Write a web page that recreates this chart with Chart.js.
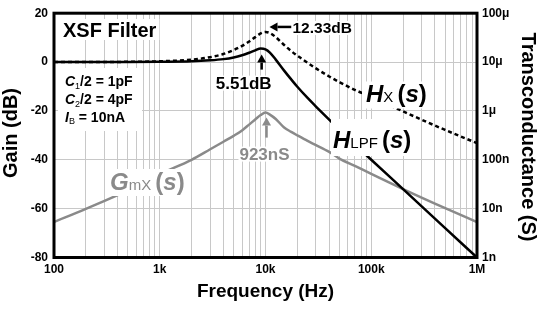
<!DOCTYPE html>
<html>
<head>
<meta charset="utf-8">
<script src="https://cdn.jsdelivr.net/npm/chart.js@4.4.1/dist/chart.umd.min.js"></script>
<style>
  html, body { margin: 0; padding: 0; background: #fff; }
</style>
</head>
<body>
<canvas id="xsfChart" width="542" height="310"></canvas>
<script>
// frequency points (Hz)
const freqHz = [100, 200, 500, 1000, 2000, 3000, 4000, 5000, 6000, 7000, 8000, 9000, 10000, 11000, 12500,
  15000, 17500, 20000, 25000, 30000, 40000, 50000, 70000, 100000, 200000, 500000, 1000000];
// H_LPF(s) gain, dB
const hlpfDb = [0, 0, 0, 0.1, 0.3, 0.7, 1.2, 1.9, 2.8, 3.8, 4.8, 5.5, 5.2, 3.9, 1.0,
  -3.5, -7.1, -10.1, -14.7, -18.2, -23.6, -27.7, -33.7, -40, -52, -68, -80];
// H_X(s) gain, dB
const hxDb = [0, 0, 0.1, 0.3, 1.0, 2.0, 3.3, 4.9, 6.6, 8.4, 10.2, 11.7, 12.33, 11.9, 10.2,
  7.0, 4.5, 2.6, -0.3, -2.6, -5.9, -8.2, -11.4, -14.2, -20.2, -27.8, -33.2];
// G_mX(s) transconductance, nS
const gmNs = [5.31, 9.9, 23.7, 51.3, 100, 164, 234, 309, 398, 525, 668, 822, 923, 841, 684,
  457, 372, 316, 243, 200, 145, 106, 75, 51.3, 25.1, 10.2, 5.31];

// axis ticks
const gainTicks = [-80, -60, -40, -20, 0, 20];
const freqDecades = [100, 1000, 10000, 100000, 1000000];
const freqLabels = ['100', '1k', '10k', '100k', '1M'];
const gmDecadesNs = [1, 10, 100, 1000, 10000, 100000];
const gmLabels = ['1n', '10n', '100n', '1μ', '10μ', '100μ'];

const FONT = "'Liberation Sans', Arial, sans-serif";
const GRAY = '#8a8a8a';

function points(ys) {
  return freqHz.map((f, i) => ({ x: f, y: ys[i] }));
}

// draws text made of several font runs, optionally on a white box
function richText(ctx, x, y, parts, color, box) {
  let w = 0;
  parts.forEach(p => { ctx.font = p[1]; w += ctx.measureText(p[0]).width; });
  if (box) {
    ctx.fillStyle = '#fff';
    ctx.fillRect(x - box[0], y - box[1], w + box[0] + box[3], box[1] + box[2]);
  }
  ctx.fillStyle = color;
  ctx.textAlign = 'left';
  ctx.textBaseline = 'alphabetic';
  let cx = x;
  parts.forEach(p => {
    ctx.font = p[1];
    ctx.fillText(p[0], cx, y + (p[2] || 0));
    cx += ctx.measureText(p[0]).width;
  });
  return w;
}

function arrow(ctx, x1, y1, x2, y2, color) {
  const a = Math.atan2(y2 - y1, x2 - x1);
  const len = 8, half = 4.5;
  const bx = x2 - len * Math.cos(a), by = y2 - len * Math.sin(a);
  ctx.strokeStyle = color;
  ctx.fillStyle = color;
  ctx.lineWidth = 2.5;
  ctx.beginPath();
  ctx.moveTo(x1, y1);
  ctx.lineTo(bx, by);
  ctx.stroke();
  ctx.beginPath();
  ctx.moveTo(x2, y2);
  ctx.lineTo(bx + half * Math.sin(a), by - half * Math.cos(a));
  ctx.lineTo(bx - half * Math.sin(a), by + half * Math.cos(a));
  ctx.closePath();
  ctx.fill();
}

const labelsPlugin = {
  id: 'xsfLabels',
  afterDatasetsDraw(chart) {
    const ctx = chart.ctx;
    const area = chart.chartArea;
    const xs = chart.scales.x, ys = chart.scales.y, ys1 = chart.scales.y1;
    ctx.save();

    // frame
    ctx.strokeStyle = '#000';
    ctx.lineWidth = 3;
    ctx.strokeRect(area.left, area.top, area.right - area.left, area.bottom - area.top);

    const b = 'bold ';
    const bi = 'italic bold ';

    // title and parameters
    richText(ctx, 63, 37, [['XSF Filter', b + '20px ' + FONT]], '#000', [3, 18, 3, 3]);
    ctx.fillStyle = '#fff';
    ctx.fillRect(58, 68, 84, 63);
    richText(ctx, 65, 86, [['C', bi + '14px ' + FONT], ['1', '9px ' + FONT, 3], ['/2 = 1pF', b + '14px ' + FONT]], '#000');
    richText(ctx, 65, 104, [['C', bi + '14px ' + FONT], ['2', '9px ' + FONT, 3], ['/2 = 4pF', b + '14px ' + FONT]], '#000');
    richText(ctx, 65, 122, [['I', bi + '14px ' + FONT], ['B', '9px ' + FONT, 2], [' = 10nA', b + '14px ' + FONT]], '#000');

    // H_LPF peak
    const px = xs.getPixelForValue(9200), py = ys.getPixelForValue(5.51);
    arrow(ctx, px, py + 21, px, py + 6, '#000');
    ctx.font = b + '17px ' + FONT;
    const t1 = '5.51dB', w1 = ctx.measureText(t1).width;
    richText(ctx, px - 18 - w1 / 2, py + 40, [[t1, b + '17px ' + FONT]], '#000', [1, 13, 2, 1]);

    // H_X peak
    const qx = xs.getPixelForValue(10000), qy = ys.getPixelForValue(12.33);
    arrow(ctx, qx + 26, qy - 5, qx + 4, qy - 5, '#000');
    richText(ctx, qx + 27, qy + 1, [['12.33dB', b + '15.5px ' + FONT]], '#000', [1, 12, 2, 1]);

    // G_mX peak
    const gx = xs.getPixelForValue(10000), gy = ys1.getPixelForValue(923);
    arrow(ctx, gx + 1, gy + 25, gx + 1, gy + 5, GRAY);
    ctx.font = b + '17px ' + FONT;
    const t2 = '923nS', w2 = ctx.measureText(t2).width;
    richText(ctx, gx - 1 - w2 / 2, gy + 47, [[t2, b + '17px ' + FONT]], GRAY, [1, 13, 2, 1]);

    // curve names
    richText(ctx, 366, 101.5, [['H', bi + '24px ' + FONT], ['X ', '15px ' + FONT], ['(', b + '24px ' + FONT], ['s', bi + '24px ' + FONT], [')', b + '24px ' + FONT]], '#000', [4, 20, 7, 2]);
    richText(ctx, 333, 148, [['H', bi + '24px ' + FONT], ['LPF ', '15px ' + FONT], ['(', b + '24px ' + FONT], ['s', bi + '24px ' + FONT], [')', b + '24px ' + FONT]], '#000', [2, 29, 8, 2]);
    richText(ctx, 110, 190, [['G', bi + '24px ' + FONT], ['mX ', '15px ' + FONT], ['(', b + '24px ' + FONT], ['s', bi + '24px ' + FONT], [')', b + '24px ' + FONT]], GRAY, [2, 21, 6, 1]);

    ctx.restore();
  },
  afterDraw(chart) {
    const ctx = chart.ctx;
    const area = chart.chartArea;
    ctx.save();
    ctx.fillStyle = '#000';
    ctx.textAlign = 'center';
    ctx.textBaseline = 'alphabetic';
    ctx.font = 'bold 19px ' + FONT;
    ctx.fillText('Frequency (Hz)', (area.left + area.right) / 2, 297);

    ctx.textBaseline = 'middle';
    ctx.font = 'bold 20px ' + FONT;
    ctx.save();
    ctx.translate(11.5, 133);
    ctx.rotate(-Math.PI / 2);
    ctx.fillText('Gain (dB)', 0, 0);
    ctx.restore();

    ctx.save();
    ctx.translate(527.5, 137);
    ctx.rotate(Math.PI / 2);
    ctx.fillText('Transconductance (S)', 0, 0);
    ctx.restore();
    ctx.restore();
  }
};

const tickFont = { family: FONT, size: 12, weight: 'bold' };

new Chart(document.getElementById('xsfChart'), {
  type: 'line',
  data: {
    datasets: [
      {
        label: 'H_LPF(s)',
        data: points(hlpfDb),
        yAxisID: 'y',
        borderColor: '#000',
        borderWidth: 2.5,
        pointRadius: 0,
        cubicInterpolationMode: 'monotone'
      },
      {
        label: 'H_X(s)',
        data: points(hxDb),
        yAxisID: 'y',
        borderColor: '#000',
        borderWidth: 2.5,
        borderDash: [4, 3],
        pointRadius: 0,
        cubicInterpolationMode: 'monotone'
      },
      {
        label: 'G_mX(s)',
        data: points(gmNs),
        yAxisID: 'y1',
        borderColor: GRAY,
        borderWidth: 2.5,
        pointRadius: 0,
        cubicInterpolationMode: 'monotone'
      }
    ]
  },
  options: {
    responsive: false,
    animation: false,
    devicePixelRatio: 1,
    layout: { padding: { top: 9.5, left: 0, right: 0, bottom: 0 } },
    plugins: { legend: { display: false }, tooltip: { enabled: false } },
    scales: {
      x: {
        type: 'logarithmic',
        min: 100,
        max: 1000000,
        afterBuildTicks: s => {
          const t = [];
          freqDecades.forEach((d, i) => {
            if (i === freqDecades.length - 1) t.push({ value: d });
            else for (let k = 1; k < 10; k++) t.push({ value: d * k });
          });
          s.ticks = t;
        },
        afterFit: s => { s.height = 52.5; },
        grid: { color: '#c8c8c8', lineWidth: 1, drawTicks: false },
        border: { display: false },
        ticks: {
          autoSkip: false, maxRotation: 0, padding: 5, color: '#000', font: tickFont,
          callback: v => { const i = freqDecades.indexOf(v); return i >= 0 ? freqLabels[i] : ''; }
        }
      },
      y: {
        position: 'left',
        min: -80,
        max: 20,
        afterBuildTicks: s => { s.ticks = gainTicks.map(v => ({ value: v })); },
        afterFit: s => { s.width = 54; },
        grid: { color: '#c8c8c8', lineWidth: 1, drawTicks: false },
        border: { display: false },
        ticks: { padding: 6, color: '#000', font: tickFont, callback: v => String(v) }
      },
      y1: {
        type: 'logarithmic',
        position: 'right',
        min: 1,
        max: 100000,
        afterBuildTicks: s => { s.ticks = gmDecadesNs.map(v => ({ value: v })); },
        afterFit: s => { s.width = 65; },
        grid: { display: false, drawTicks: false },
        border: { display: false },
        ticks: { padding: 5, color: '#000', font: tickFont, callback: v => gmLabels[gmDecadesNs.indexOf(v)] }
      }
    }
  },
  plugins: [labelsPlugin]
});
</script>
</body>
</html>
